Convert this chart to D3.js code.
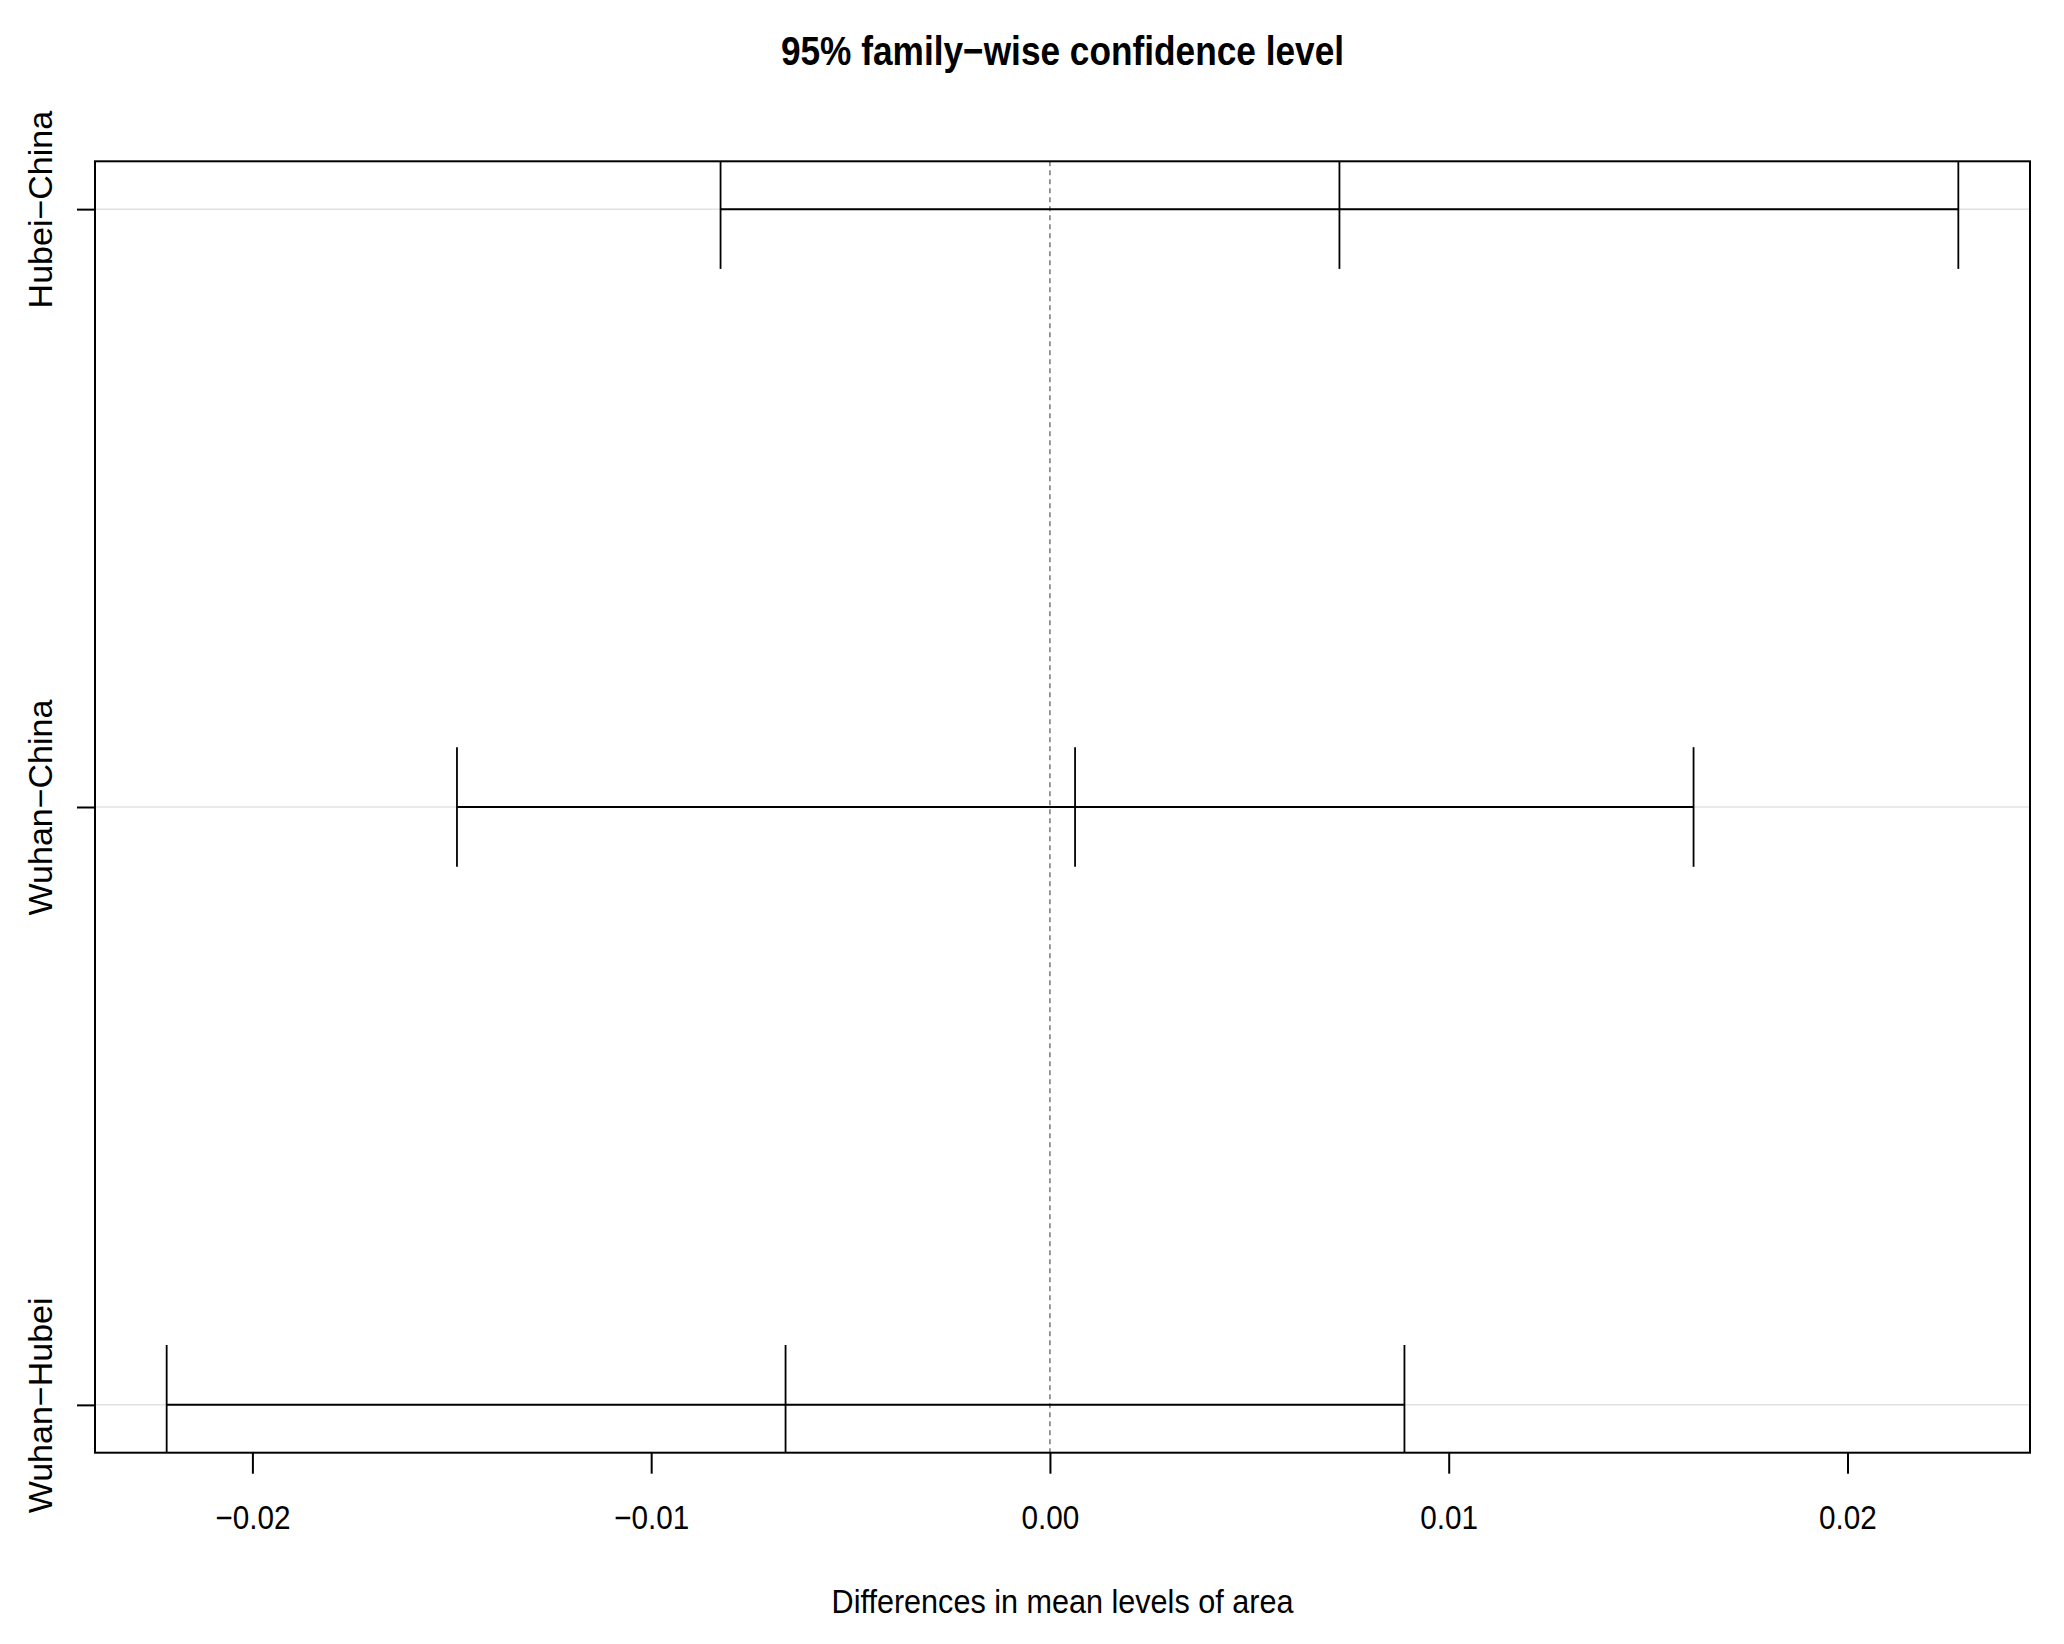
<!DOCTYPE html>
<html>
<head>
<meta charset="utf-8">
<title>95% family-wise confidence level</title>
<script src="https://d3js.org/d3.v7.min.js"></script>
<style>
    body { margin: 0; background: #fff; }
    svg { display: block; }
</style>
</head>
<body>
<svg class="tukey"></svg>

<script>

    // Tukey HSD comparisons, top to bottom
    var comparisons = ["Hubei\u2212China", "Wuhan\u2212China", "Wuhan\u2212Hubei"];
    var diffs = [0.00726, 0.00063, -0.00663];
    var lowers = [-0.00826, -0.01487, -0.02215];
    var uppers = [0.02278, 0.01614, 0.00889];

    var xTicks = [-0.02, -0.01, 0, 0.01, 0.02];
    var xTickLabels = ["\u22120.02", "\u22120.01", "0.00", "0.01", "0.02"];

    var titleText = "95% family\u2212wise confidence level";
    var xTitle = "Differences in mean levels of area";

    var svgWidth = 2064, svgHeight = 1644;
    var plotLeft = 95, plotRight = 2030, plotTop = 161.3, plotBottom = 1452.7;
    var fontFamily = "'Liberation Sans', Arial, Helvetica, sans-serif";
    var squeeze = 0.9;   // condensed look of the R device font

    var n = comparisons.length;
    // row value: first comparison at the top (R plots n:1)
    var yvals = comparisons.map(function (d, i) { return n - i; });

    // R style 4% padding on both scales
    var xmin = d3.min(lowers), xmax = d3.max(uppers);
    var xpad = (xmax - xmin) * 0.04;
    var xScale = d3.scaleLinear()
        .domain([xmin - xpad, xmax + xpad])
        .range([plotLeft, plotRight]);

    var ypad = (n - 1) * 0.04;
    var yScale = d3.scaleLinear()
        .domain([1 - ypad, n + ypad])
        .range([plotBottom, plotTop]);

    var svg = d3.select('svg')
        .attr('width', svgWidth)
        .attr('height', svgHeight);

    // light grey guide lines per row
    svg.selectAll('line.guide')
        .data(yvals)
        .enter()
        .append('line')
        .attr('class', 'guide')
        .attr('x1', plotLeft)
        .attr('x2', plotRight)
        .attr('y1', function (d) { return yScale(d); })
        .attr('y2', function (d) { return yScale(d); })
        .attr('stroke', '#e2e2e2')
        .attr('stroke-width', 1.5);

    // zero reference line
    svg.append('line')
        .attr('x1', xScale(0))
        .attr('x2', xScale(0))
        .attr('y1', plotTop)
        .attr('y2', plotBottom)
        .attr('stroke', '#555')
        .attr('stroke-width', 1.2)
        .attr('stroke-dasharray', '5,4');

    svg.append('clipPath').attr('id', 'plotclip')
        .append('rect')
        .attr('x', plotLeft).attr('y', plotTop)
        .attr('width', plotRight - plotLeft).attr('height', plotBottom - plotTop);

    var plot = svg.append('g').attr('clip-path', 'url(#plotclip)');

    // interval segments
    plot.selectAll('line.ci')
        .data(yvals)
        .enter()
        .append('line')
        .attr('class', 'ci')
        .attr('x1', function (d, i) { return xScale(lowers[i]); })
        .attr('x2', function (d, i) { return xScale(uppers[i]); })
        .attr('y1', function (d) { return yScale(d); })
        .attr('y2', function (d) { return yScale(d); })
        .attr('stroke', '#000')
        .attr('stroke-width', 2);

    // end caps and centre marks at +-0.1 row units
    var caps = [];
    yvals.forEach(function (y, i) {
        caps.push({ x: lowers[i], y: y });
        caps.push({ x: diffs[i], y: y });
        caps.push({ x: uppers[i], y: y });
    });

    plot.selectAll('line.cap')
        .data(caps)
        .enter()
        .append('line')
        .attr('class', 'cap')
        .attr('x1', function (d) { return xScale(d.x); })
        .attr('x2', function (d) { return xScale(d.x); })
        .attr('y1', function (d) { return yScale(d.y - 0.1); })
        .attr('y2', function (d) { return yScale(d.y + 0.1); })
        .attr('stroke', '#000')
        .attr('stroke-width', 1.8);

    // box
    svg.append('rect')
        .attr('x', plotLeft)
        .attr('y', plotTop)
        .attr('width', plotRight - plotLeft)
        .attr('height', plotBottom - plotTop)
        .attr('fill', 'none')
        .attr('stroke', '#000')
        .attr('stroke-width', 2);

    // x axis
    var xAxis = d3.axisBottom(xScale)
        .tickValues(xTicks)
        .tickSize(21)
        .tickPadding(32)
        .tickFormat(function (d, i) { return xTickLabels[i]; });

    var gx = svg.append('g')
        .attr('transform', 'translate(0,' + plotBottom + ')')
        .call(xAxis);
    gx.select('.domain').remove();
    gx.selectAll('.tick line').attr('stroke', '#000').attr('stroke-width', 2);
    gx.selectAll('.tick text')
        .attr('fill', '#000')
        .attr('dy', null)
        .attr('y', 76)
        .attr('transform', 'scale(' + squeeze + ',1)')
        .style('font-family', fontFamily)
        .style('font-size', '33px');

    // y axis
    var yAxis = d3.axisLeft(yScale)
        .tickValues(yvals)
        .tickSize(18)
        .tickPadding(0)
        .tickFormat(function (d, i) { return comparisons[i]; });

    var gy = svg.append('g')
        .attr('transform', 'translate(' + plotLeft + ',0)')
        .call(yAxis);
    gy.select('.domain').remove();
    gy.selectAll('.tick line').attr('stroke', '#000').attr('stroke-width', 2);
    gy.selectAll('.tick text')
        .attr('fill', '#000')
        .attr('x', null)
        .attr('dy', null)
        .attr('text-anchor', 'middle')
        .attr('transform', 'translate(-43,0) rotate(-90)')
        .style('font-family', fontFamily)
        .style('font-size', '34px');

    // title
    svg.append('text')
        .attr('transform', 'translate(' + (plotLeft + plotRight) / 2 + ',65) scale(0.86,1)')
        .attr('text-anchor', 'middle')
        .style('font-family', fontFamily)
        .style('font-weight', 'bold')
        .style('font-size', '41px')
        .text(titleText);

    // x axis title
    svg.append('text')
        .attr('transform', 'translate(' + (plotLeft + plotRight) / 2 + ',1613) scale(' + squeeze + ',1)')
        .attr('text-anchor', 'middle')
        .style('font-family', fontFamily)
        .style('font-size', '34px')
        .text(xTitle);

</script>
</body>
</html>
